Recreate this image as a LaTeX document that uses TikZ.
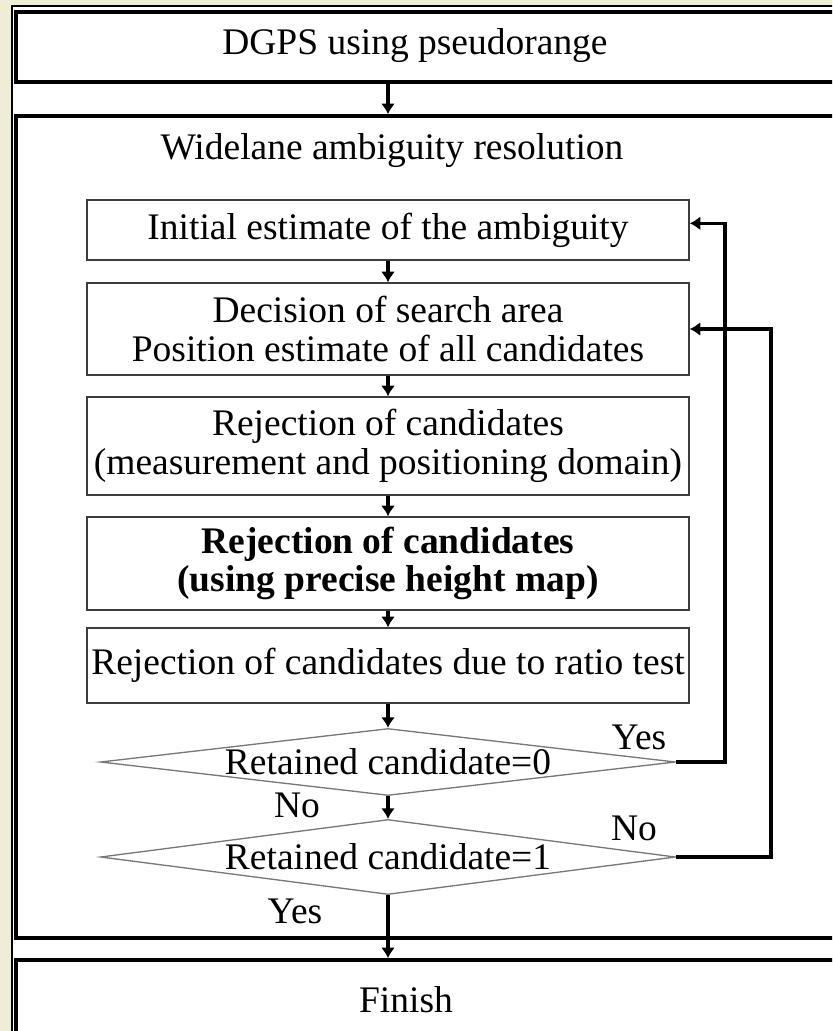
\documentclass[tikz,border=0pt]{standalone}
\usepackage{fontspec}
\setmainfont{Liberation Serif}
\usetikzlibrary{arrows.meta}
\usetikzlibrary{shapes.geometric}
\definecolor{paper}{RGB}{240,237,214}
\definecolor{thinline}{RGB}{60,60,60}
\definecolor{diamline}{RGB}{120,120,120}

\begin{document}
\begin{tikzpicture}[x=0.03cm,y=-0.03cm,line width=0.2mm,
  lbl/.style={font=\fontsize{32}{33}\selectfont,inner sep=0pt},
  frame/.style={draw=black,line width=1.1mm,fill=white,inner sep=0pt,minimum width=25.02cm},
  stepbox/.style={draw=thinline,line width=0.45mm,fill=white,minimum width=18.06cm,inner sep=0pt,align=center,font=\fontsize{32}{33}\selectfont},
  decision/.style={draw=diamline,line width=0.4mm,fill=white,diamond,inner sep=0pt,minimum width=17.25cm},
  flow/.style={-{Latex[length=9pt,width=12pt]},line width=1mm}]

\fill[paper] (0,0) rectangle (832,1031);
\useasboundingbox (0,0) rectangle (832,1031);
\clip (0,0) rectangle (832,1031);

\draw[black,fill=white,line width=0.6mm] (12,6) rectangle (870,1070);

% outer stages
\node[frame,minimum height=2.1cm] (dgps) at (433,47) {};
\node[frame,minimum height=24.66cm] (wide) at (433,527) {};
\node[frame,minimum height=4.2cm] (finish) at (433,1030) {};

\node[lbl] (dgpstext) at (415,46) {DGPS using pseudorange};
\node[lbl] (widetext) at (392,151) {Widelane ambiguity resolution};
\node[lbl] (finishtext) at (406,1000) {Finish};

% inner steps
\node[stepbox,minimum height=1.8cm] (init) at (388,230) {Initial estimate of the ambiguity};
\node[stepbox,minimum height=2.76cm] (search) at (388,329) {Decision of search area\\Position estimate of all candidates};
\node[stepbox,minimum height=2.94cm] (rejA) at (388,446) {Rejection of candidates\\(measurement and positioning domain)};
\node[stepbox,minimum height=2.79cm,font=\fontsize{32}{33}\selectfont\bfseries] (rejB) at (388,563.5) {Rejection of candidates\\(using precise height map)};
\node[stepbox,minimum height=2.25cm] (ratio) at (388,665.5) {Rejection of candidates due to ratio test};

\node[decision,minimum height=2.01cm] (ret0) at (388,762) {};
\node[decision,minimum height=2.25cm] (ret1) at (388,857) {};
\node[lbl] (ret0text) at (ret0) {Retained candidate=0};
\node[lbl] (ret1text) at (ret1) {Retained candidate=1};

\node[lbl] (yes0) at (639,737) {Yes};
\node[lbl] (no0) at (297,805) {No};
\node[lbl] (no1) at (634,828) {No};
\node[lbl] (yes1) at (295,911) {Yes};

\coordinate (loopA) at (725,0);
\coordinate (loopB) at (771,0);

\draw[flow] (dgps.south -| init.north) -- (wide.north -| init.north);
\draw[flow] (init) -- (search);
\draw[flow] (search) -- (rejA);
\draw[flow] (rejA) -- (rejB);
\draw[flow] (rejB) -- (ratio);
\draw[flow] (ratio.south) -- (ret0.north);
\draw[flow] (ret0.south) -- (ret1.north);
\draw[flow] (ret1.south) -- (finish.north -| ret1.south);

\draw[flow] (ret0.east) -- (ret0.east -| loopA) -- ([yshift=0.2cm]init.east -| loopA) -- ([yshift=0.2cm]init.east);
\draw[flow] (ret1.east) -- (ret1.east -| loopB) -- (search.east -| loopB) -- (search.east);

\end{tikzpicture}
\end{document}
